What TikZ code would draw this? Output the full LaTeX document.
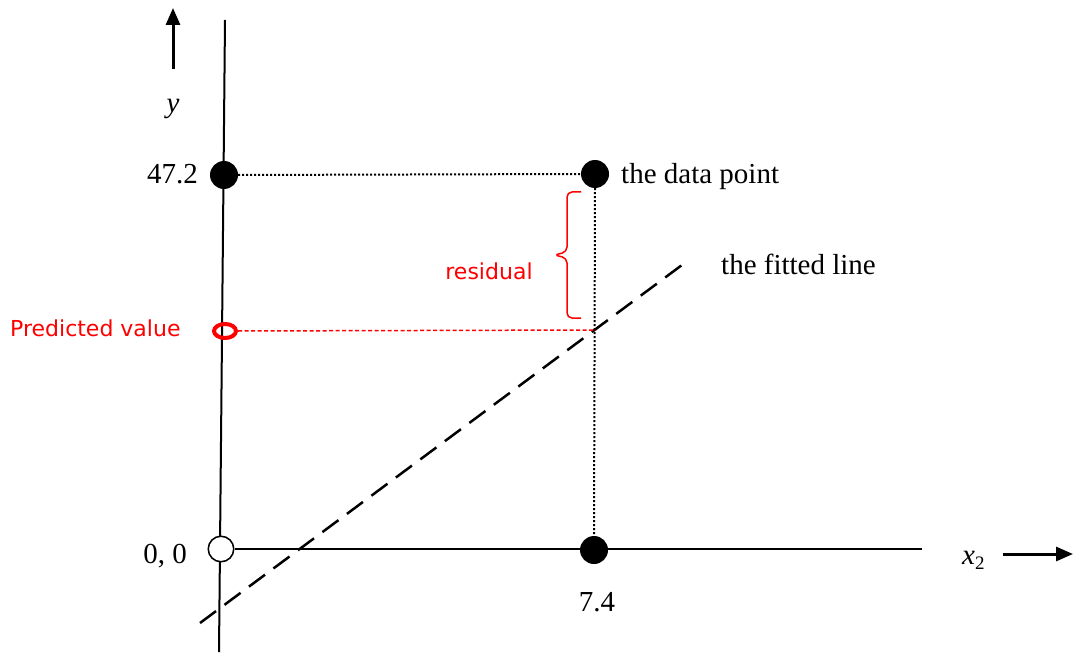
\documentclass[tikz,border=0pt]{standalone}
\usepackage{fontspec}
\setmainfont{Liberation Serif}
\newfontfamily\verd{DejaVu Sans}
\usetikzlibrary{arrows.meta,shapes.geometric}
\begin{document}
\begin{tikzpicture}[x=1pt,y=-1pt,
  dotnode/.style={circle,fill=black,inner sep=0pt,minimum size=28pt},
  opennode/.style={circle,draw=black,line width=1.5pt,fill=white,inner sep=0pt,minimum size=25.5pt},
  prednode/.style={ellipse,draw=red,line width=4pt,inner sep=0pt,minimum width=22pt,minimum height=14pt},
  lbl/.style={font=\fontsize{29}{32}\selectfont,inner sep=0pt},
  redlbl/.style={font=\verd\fontsize{22}{25}\selectfont,text=red,inner sep=0pt},
  axisline/.style={line width=2pt},
  dotline/.style={line width=2pt,dash pattern=on 2pt off 2pt},
  reddash/.style={red,line width=1.5pt,dash pattern=on 4pt off 2.5pt},
  fitline/.style={line width=2.5pt,dash pattern=on 20pt off 10.5pt},
  bigarrow/.style={line width=3pt,-{Triangle[length=17pt,width=14pt]}},
  bracepath/.style={red,line width=1.5pt,rounded corners=5pt}
]
\useasboundingbox (0,0) rectangle (1073,655);
% y axis
\coordinate (ytop) at (225,20);
\coordinate (ybot) at (219,652);
\draw[axisline] (ytop) -- (ybot);
% nodes
\node[dotnode] (p47) at (224,175) {};
\node[dotnode] (dp) at (595,174) {};
\node[opennode] (orig) at (221,549) {};
\node[dotnode] (p74) at (594,550) {};
\node[prednode] (pred) at (225,331) {};
% x axis
\coordinate (xend) at (922,549);
\draw[axisline] (orig.east) -- (xend);
% dotted guides
\draw[dotline] (p47.east) -- (dp.west);
\draw[dotline] (dp.south) -- (p74.north);
% fitted line
\coordinate (fitA) at (200,623);
\coordinate (fitB) at (682,265);
\draw[fitline] (fitA) -- (fitB);
% predicted value guide
\coordinate (hit) at (596,330);
\draw[reddash] (pred.east) -- (hit);
% brace
\draw[bracepath] (581,192) -- (567,192) -- (567,252) -- (554,255) -- (567,258) -- (567,318) -- (581,318);
% arrows
\coordinate (ya0) at (173,69);
\coordinate (ya1) at (173,8);
\draw[bigarrow] (ya0) -- (ya1);
\coordinate (xa0) at (1003,554);
\coordinate (xa1) at (1073,554);
\draw[bigarrow] (xa0) -- (xa1);
% labels
\node[lbl,anchor=base] (ylab) at (173,113) {\textit{y}};
\node[lbl,anchor=base east] (l47) at (198,184) {47.2};
\node[lbl,anchor=base east] (l00) at (187,563) {0, 0};
\node[lbl,anchor=base] (l74) at (597,611) {7.4};
\node[lbl,anchor=base west] (ldp) at (621,184) {the data point};
\node[lbl,anchor=base west] (lfit) at (721,274) {the fitted line};
\node[lbl,anchor=base west] (lx2) at (962,564) {\textit{x}{\fontsize{19}{20}\selectfont\raisebox{-5pt}{2}}};
\node[redlbl,anchor=base west] (lpred) at (10,336) {Predicted value};
\node[redlbl,anchor=base] (lres) at (489,279) {residual};
\end{tikzpicture}
\end{document}
